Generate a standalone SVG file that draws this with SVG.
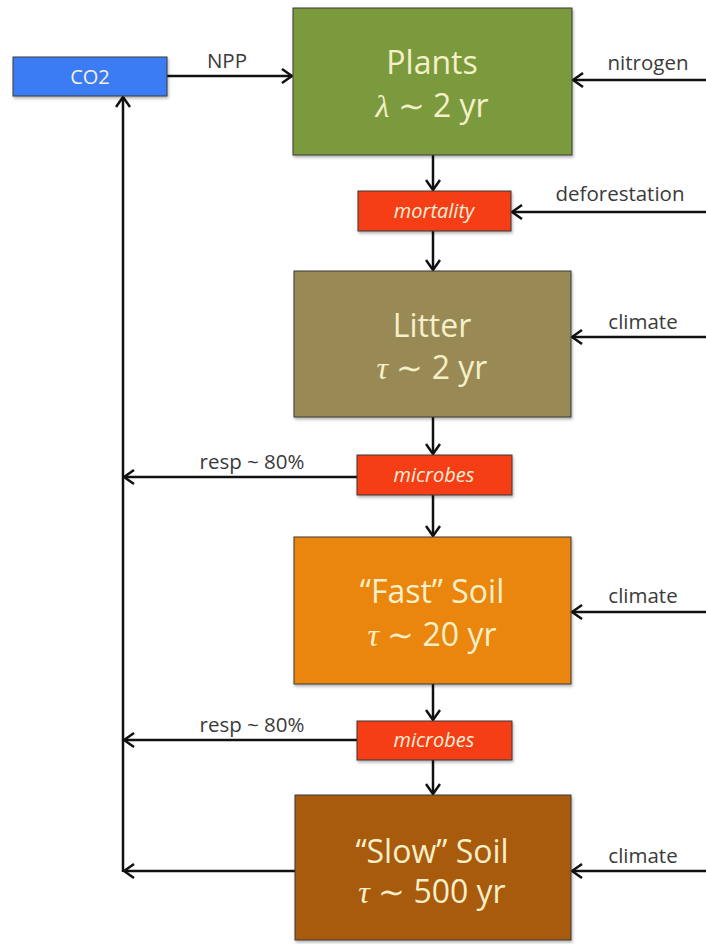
<svg xmlns="http://www.w3.org/2000/svg" width="706" height="944" viewBox="0 0 706 944">
<defs>
<style>
.box{stroke:#3a3a3a;stroke-width:1}
.big{font-family:"Open Sans",Lato,"Liberation Sans",sans-serif;font-size:32px;fill:#f6f0c8;text-anchor:middle}
.math{font-family:"Liberation Serif","DejaVu Serif",serif;font-style:italic}
.small{font-family:"Open Sans",Lato,"Liberation Sans",sans-serif;font-size:20px;fill:#f6f0d8;text-anchor:middle}
.it{font-style:italic}
.lbl{font-family:"Open Sans",Lato,"Liberation Sans",sans-serif;font-size:20.5px;fill:#3a3a3a;text-anchor:middle}
.con{stroke:#111;stroke-width:2.5;fill:none}
.arr{marker-end:url(#ah)}
</style>
<marker id="ah" markerUnits="userSpaceOnUse" viewBox="0 0 12 16" refX="11" refY="8" markerWidth="12" markerHeight="16" orient="auto">
<path d="M1,1 L11,8 L1,15" fill="none" stroke="#111" stroke-width="2.5"/>
</marker>
<filter id="sh" x="-5%" y="-5%" width="115%" height="120%">
<feDropShadow dx="1" dy="2" stdDeviation="1.5" flood-color="#000" flood-opacity="0.3"/>
</filter>
</defs>
<rect width="706" height="944" fill="#ffffff"/>

<g id="connectors">
<line class="con arr" x1="167" y1="76" x2="292" y2="76"/>
<line class="con arr" x1="706" y1="80" x2="573" y2="80"/>
<line class="con arr" x1="433" y1="155" x2="433" y2="190"/>
<line class="con arr" x1="706" y1="212" x2="512" y2="212"/>
<line class="con arr" x1="433" y1="231" x2="433" y2="270"/>
<line class="con arr" x1="706" y1="337" x2="572" y2="337"/>
<line class="con arr" x1="433" y1="417" x2="433" y2="454"/>
<line class="con arr" x1="357" y1="477" x2="124" y2="477"/>
<line class="con arr" x1="433" y1="495" x2="433" y2="536"/>
<line class="con arr" x1="706" y1="612" x2="572" y2="612"/>
<line class="con arr" x1="433" y1="684" x2="433" y2="720"/>
<line class="con arr" x1="357" y1="740" x2="124" y2="740"/>
<line class="con arr" x1="433" y1="760" x2="433" y2="794"/>
<line class="con arr" x1="295" y1="871" x2="124" y2="871"/>
<line class="con arr" x1="706" y1="871" x2="572" y2="871"/>
<line class="con arr" x1="123" y1="872" x2="123" y2="97"/>
<text class="lbl" x="227" y="68">NPP</text>
<text class="lbl" x="648" y="70">nitrogen</text>
<text class="lbl" x="620" y="201">deforestation</text>
<text class="lbl" x="643" y="329">climate</text>
<text class="lbl" x="252" y="469">resp ~ 80%</text>
<text class="lbl" x="643" y="603">climate</text>
<text class="lbl" x="252" y="732">resp ~ 80%</text>
<text class="lbl" x="643" y="863">climate</text>
</g>

<g id="co2">
<rect class="box" x="13" y="57" width="154" height="39" fill="#3a7cf4" filter="url(#sh)"/>
<text class="small" x="90" y="84">CO2</text>
</g>

<g id="plants">
<rect class="box" x="293" y="8" width="279" height="147" fill="#7a9a3c" filter="url(#sh)"/>
<text class="big" x="432" y="74">Plants</text>
<text class="big" x="432" y="117"><tspan class="math">λ</tspan> ∼ 2 yr</text>
</g>

<g id="mortality">
<rect class="box" x="358" y="191" width="153" height="40" fill="#f53c14" filter="url(#sh)"/>
<text class="small it" x="434" y="218">mortality</text>
</g>

<g id="litter">
<rect class="box" x="294" y="271" width="277" height="146" fill="#988954" filter="url(#sh)"/>
<text class="big" x="432" y="337">Litter</text>
<text class="big" x="432" y="379"><tspan class="math">τ</tspan> ∼ 2 yr</text>
</g>

<g id="microbes1">
<rect class="box" x="357" y="455" width="155" height="40" fill="#f53c14" filter="url(#sh)"/>
<text class="small it" x="434" y="482">microbes</text>
</g>

<g id="fast-soil">
<rect class="box" x="294" y="537" width="277" height="147" fill="#ea8610" filter="url(#sh)"/>
<text class="big" x="432" y="603">“Fast” Soil</text>
<text class="big" x="432" y="646"><tspan class="math">τ</tspan> ∼ 20 yr</text>
</g>

<g id="microbes2">
<rect class="box" x="357" y="721" width="155" height="39" fill="#f53c14" filter="url(#sh)"/>
<text class="small it" x="434" y="747">microbes</text>
</g>

<g id="slow-soil">
<rect class="box" x="295" y="795" width="276" height="145" fill="#a85a0b" filter="url(#sh)"/>
<text class="big" x="432" y="863">“Slow” Soil</text>
<text class="big" x="432" y="903"><tspan class="math">τ</tspan> ∼ 500 yr</text>
</g>
</svg>
